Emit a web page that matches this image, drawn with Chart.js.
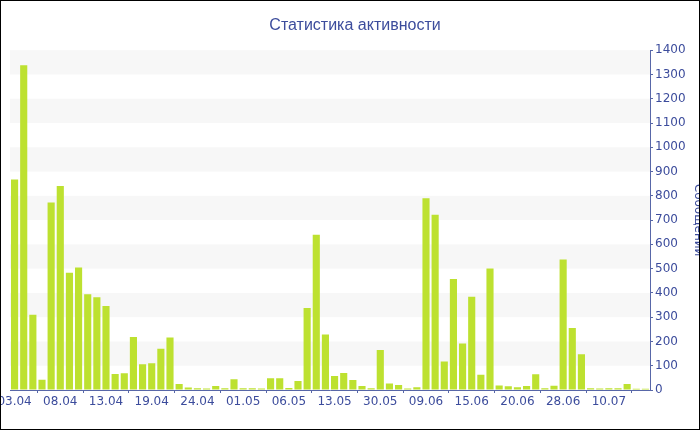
<!DOCTYPE html>
<html>
<head>
<meta charset="utf-8">
<script src="https://cdn.jsdelivr.net/npm/chart.js@4.4.0/dist/chart.umd.min.js"></script>
<style>
    html, body { margin: 0; padding: 0; background: #fff; }
</style>
</head>
<body>
<canvas id="activity" width="700" height="430"></canvas>
<script>
// days (only every 5th is shown as a tick label)
const days = [
    "03.04", "04.04", "05.04", "06.04", "07.04",
    "08.04", "09.04", "10.04", "11.04", "12.04",
    "13.04", "14.04", "15.04", "16.04", "18.04",
    "19.04", "20.04", "21.04", "22.04", "23.04",
    "24.04", "25.04", "26.04", "28.04", "29.04",
    "01.05", "02.05", "03.05", "04.05", "05.05",
    "06.05", "07.05", "08.05", "10.05", "11.05",
    "13.05", "14.05", "16.05", "20.05", "25.05",
    "30.05", "31.05", "02.06", "04.06", "07.06",
    "09.06", "10.06", "11.06", "12.06", "14.06",
    "15.06", "16.06", "17.06", "18.06", "19.06",
    "20.06", "21.06", "23.06", "25.06", "27.06",
    "28.06", "29.06", "01.07", "03.07", "06.07",
    "10.07", "11.07", "13.07", "14.07", "15.07"
];

const messages = [
    867, 1338, 310, 42, 773,
    840, 483, 505, 395, 382,
    346, 66, 69, 218, 106,
    110, 170, 216, 25, 10,
    7, 6, 16, 7, 44,
    7, 7, 6, 48, 48,
    8, 37, 338, 640, 229,
    58, 70, 41, 16, 7,
    165, 27, 21, 6, 11,
    790, 722, 117, 457, 192,
    384, 63, 501, 19, 15,
    11, 16, 65, 7, 18,
    538, 255, 147, 7, 6,
    7, 7, 25, 5, 5
];

const yMin = 0;
const yMax = 1400;
const yStep = 50;

const textColor = "#3c4c9c";
const axisColor = "#5867a8";

// grey bands every other 100 messages
const bandsPlugin = {
    id: "bands",
    beforeDatasetsDraw(chart) {
        const { ctx, chartArea, scales } = chart;
        const y = scales.y;
        ctx.save();
        ctx.fillStyle = "#f7f7f7";
        for (let v = 100; v < yMax; v += 200) {
            const top = y.getPixelForValue(v + 100);
            const bottom = y.getPixelForValue(v);
            ctx.fillRect(chartArea.left, top, chartArea.right - chartArea.left, bottom - top);
        }
        ctx.restore();
    }
};

const framePlugin = {
    id: "frame",
    afterDraw(chart) {
        const ctx = chart.ctx;
        ctx.save();
        ctx.strokeStyle = "#000";
        ctx.lineWidth = 1;
        ctx.strokeRect(0.5, 0.5, chart.width - 1, chart.height - 1);
        ctx.restore();
    }
};

const config = {
    type: "bar",
    data: {
        labels: days,
        datasets: [
            {
                label: "Сообщений",
                data: messages,
                backgroundColor: "#bde130",
                borderWidth: 0,
                barPercentage: 0.78,
                categoryPercentage: 1,
            },
        ],
    },
    options: {
        responsive: false,
        animation: false,
        events: [],
        layout: {
            padding: { left: 10, right: 0, top: 0, bottom: 0 },
        },
        scales: {
            x: {
                grid: {
                    display: true,
                    drawOnChartArea: false,
                    tickLength: 3,
                    tickColor: axisColor,
                },
                border: { color: axisColor, width: 1 },
                ticks: {
                    autoSkip: false,
                    maxRotation: 0,
                    padding: 2,
                    color: textColor,
                    font: { family: "DejaVu Sans", size: 12 },
                    callback: (v, i) => (i % 5 === 0 ? days[i] : null),
                },
                afterFit: (s) => {
                    s.height = 40;
                    s.paddingLeft = 0;
                    s.paddingRight = 0;
                },
            },
            y: {
                position: "right",
                min: yMin,
                max: yMax,
                grid: {
                    display: true,
                    drawOnChartArea: false,
                    tickLength: 3,
                    tickColor: axisColor,
                },
                border: { color: axisColor, width: 1 },
                ticks: {
                    stepSize: yStep,
                    padding: 2,
                    color: textColor,
                    font: { family: "DejaVu Sans", size: 12 },
                    callback: (v) => (v % 100 === 0 ? v : ""),
                },
                title: {
                    display: true,
                    text: "Сообщений",
                    color: textColor,
                    font: { family: "DejaVu Sans", size: 12 },
                    padding: { top: -5, bottom: 0 },
                },
                afterFit: (s) => {
                    s.width = 50;
                },
            },
        },
        plugins: {
            legend: { display: false },
            tooltip: { enabled: false },
            title: {
                display: true,
                text: "Статистика активности",
                color: textColor,
                font: { family: "Liberation Sans", size: 16, weight: "normal" },
                padding: { top: 16, bottom: 15 },
            },
        },
    },
    plugins: [bandsPlugin, framePlugin],
};

new Chart(document.getElementById("activity").getContext("2d"), config);
</script>
</body>
</html>
